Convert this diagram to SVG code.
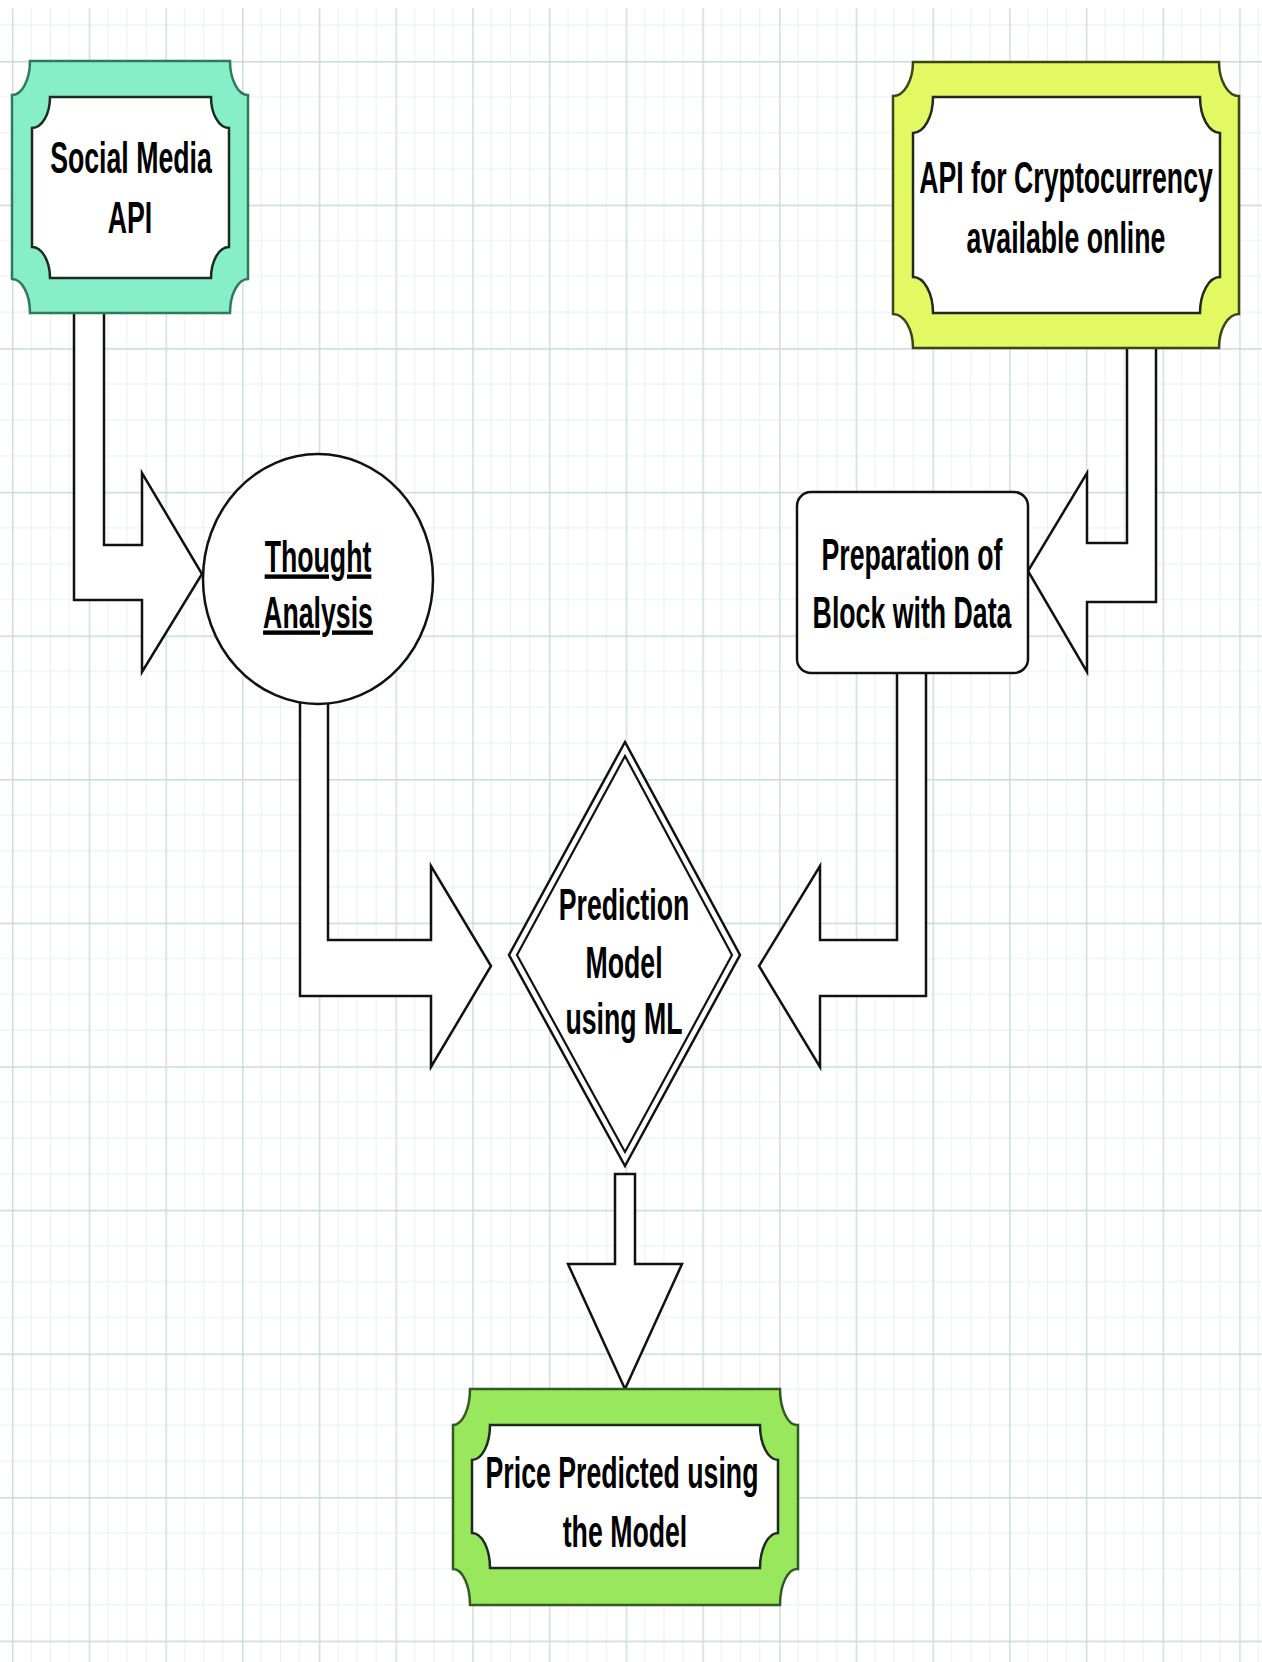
<svg xmlns="http://www.w3.org/2000/svg" width="1262" height="1662" viewBox="0 0 1262 1662">
<defs>
<pattern id="grid" x="12" y="61" width="76.7" height="143.6" patternUnits="userSpaceOnUse">
<g stroke="#e9f0f0" stroke-width="1">
<line x1="19.175" y1="0" x2="19.175" y2="143.6"/>
<line x1="38.35" y1="0" x2="38.35" y2="143.6"/>
<line x1="57.525" y1="0" x2="57.525" y2="143.6"/>
<line x1="0" y1="35.9" x2="76.7" y2="35.9"/>
<line x1="0" y1="71.8" x2="76.7" y2="71.8"/>
<line x1="0" y1="107.7" x2="76.7" y2="107.7"/>
</g>
<line x1="0.75" y1="0" x2="0.75" y2="143.6" stroke="#d2dcdc" stroke-width="1.5"/>
<line x1="0" y1="0.75" x2="76.7" y2="0.75" stroke="#cdd8d8" stroke-width="1.5"/>
</pattern>
<style>
.lbl{font-family:"Liberation Sans",Arial,sans-serif;font-weight:bold;font-size:44px;fill:#000;text-anchor:middle}
.arrow{fill:#fff;stroke:#111;stroke-width:2.5;stroke-linejoin:miter}
.plain{fill:#fff;stroke:#111;stroke-width:2.5}
.inner{fill:#fff;stroke:#1f2a1f;stroke-width:2.5}
</style>
</defs>
<rect width="1262" height="1662" fill="#fff"/>
<rect width="1262" height="1662" fill="url(#grid)"/>
<rect width="1262" height="8" fill="#fff"/>

<g id="connectors">
<polygon class="arrow" points="74,312 104,312 104,545 142,545 142,473 202,574 142,672 142,600 74,600"/>
<polygon class="arrow" points="1127,347 1156,347 1156,602 1087,602 1087,672 1028,571 1087,473 1087,543 1127,543"/>
<polygon class="arrow" points="300,700 328,700 328,940 431,940 431,866 491,966 431,1067 431,996 300,996"/>
<polygon class="arrow" points="897,672 926,672 926,996 820,996 820,1067 759,966 820,866 820,940 897,940"/>
<polygon class="arrow" points="615,1174 635,1174 635,1264 682,1264 625,1389 568,1264 615,1264"/>
</g>

<g id="social-media-api">
<path d="M12,95 A18,34 0 0 0 30,61 L230,61 A18,34 0 0 0 248,95 L248,279 A18,34 0 0 0 230,313 L30,313 A18,34 0 0 0 12,279 Z" fill="#86efca" stroke="#2f7a5c" stroke-width="2.5"/>
<path d="M32,128 A18,31 0 0 0 50,97 L211,97 A18,31 0 0 0 229,128 L229,247 A18,31 0 0 0 211,278 L50,278 A18,31 0 0 0 32,247 Z" class="inner" stroke="#1d4a38"/>
<text class="lbl" transform="translate(131,173) scale(0.607,1)">Social Media</text>
<text class="lbl" transform="translate(130,233) scale(0.607,1)">API</text>
</g>

<g id="crypto-api">
<path d="M893,96 A20,34 0 0 0 913,62 L1219,62 A20,34 0 0 0 1239,96 L1239,314 A20,34 0 0 0 1219,348 L913,348 A20,34 0 0 0 893,314 Z" fill="#e2f963" stroke="#3a4618" stroke-width="2.5"/>
<path d="M913,133 A20,36 0 0 0 933,97 L1200,97 A20,36 0 0 0 1220,133 L1220,277 A20,36 0 0 0 1200,313 L933,313 A20,36 0 0 0 913,277 Z" class="inner" stroke="#2b3312"/>
<text class="lbl" transform="translate(1066,193) scale(0.607,1)">API for Cryptocurrency</text>
<text class="lbl" transform="translate(1066,253) scale(0.607,1)">available online</text>
</g>

<g id="thought-analysis">
<ellipse class="plain" cx="318" cy="579" rx="115" ry="125"/>
<text class="lbl" transform="translate(318,572) scale(0.607,1)" text-decoration="underline">Thought</text>
<text class="lbl" transform="translate(318,628) scale(0.607,1)" text-decoration="underline">Analysis</text>
</g>

<g id="preparation-block">
<rect class="plain" x="797" y="492" width="231" height="181" rx="14" ry="14"/>
<text class="lbl" transform="translate(912,570) scale(0.607,1)">Preparation of</text>
<text class="lbl" transform="translate(912,628) scale(0.607,1)">Block with Data</text>
</g>

<g id="prediction-model">
<polygon class="plain" points="625,742 740,955 625,1166 509,955"/>
<polygon fill="none" stroke="#111" stroke-width="2.2" points="625,756 732,955 625,1152 517,955"/>
<text class="lbl" transform="translate(624,920) scale(0.607,1)">Prediction</text>
<text class="lbl" transform="translate(624,978) scale(0.607,1)">Model</text>
<text class="lbl" transform="translate(624,1034) scale(0.607,1)">using ML</text>
</g>

<g id="price-predicted">
<path d="M453,1425 A17,36 0 0 0 470,1389 L780,1389 A17,36 0 0 0 798,1425 L798,1569 A17,36 0 0 0 780,1605 L470,1605 A17,36 0 0 0 453,1569 Z" fill="#98e75c" stroke="#335a20" stroke-width="2.5"/>
<path d="M472,1460 A18,35 0 0 0 490,1425 L760,1425 A18,35 0 0 0 778,1460 L778,1533 A18,35 0 0 0 760,1568 L490,1568 A18,35 0 0 0 472,1533 Z" class="inner" stroke="#22381a"/>
<text class="lbl" transform="translate(622,1488) scale(0.607,1)">Price Predicted using</text>
<text class="lbl" transform="translate(625,1547) scale(0.607,1)">the Model</text>
</g>
</svg>
